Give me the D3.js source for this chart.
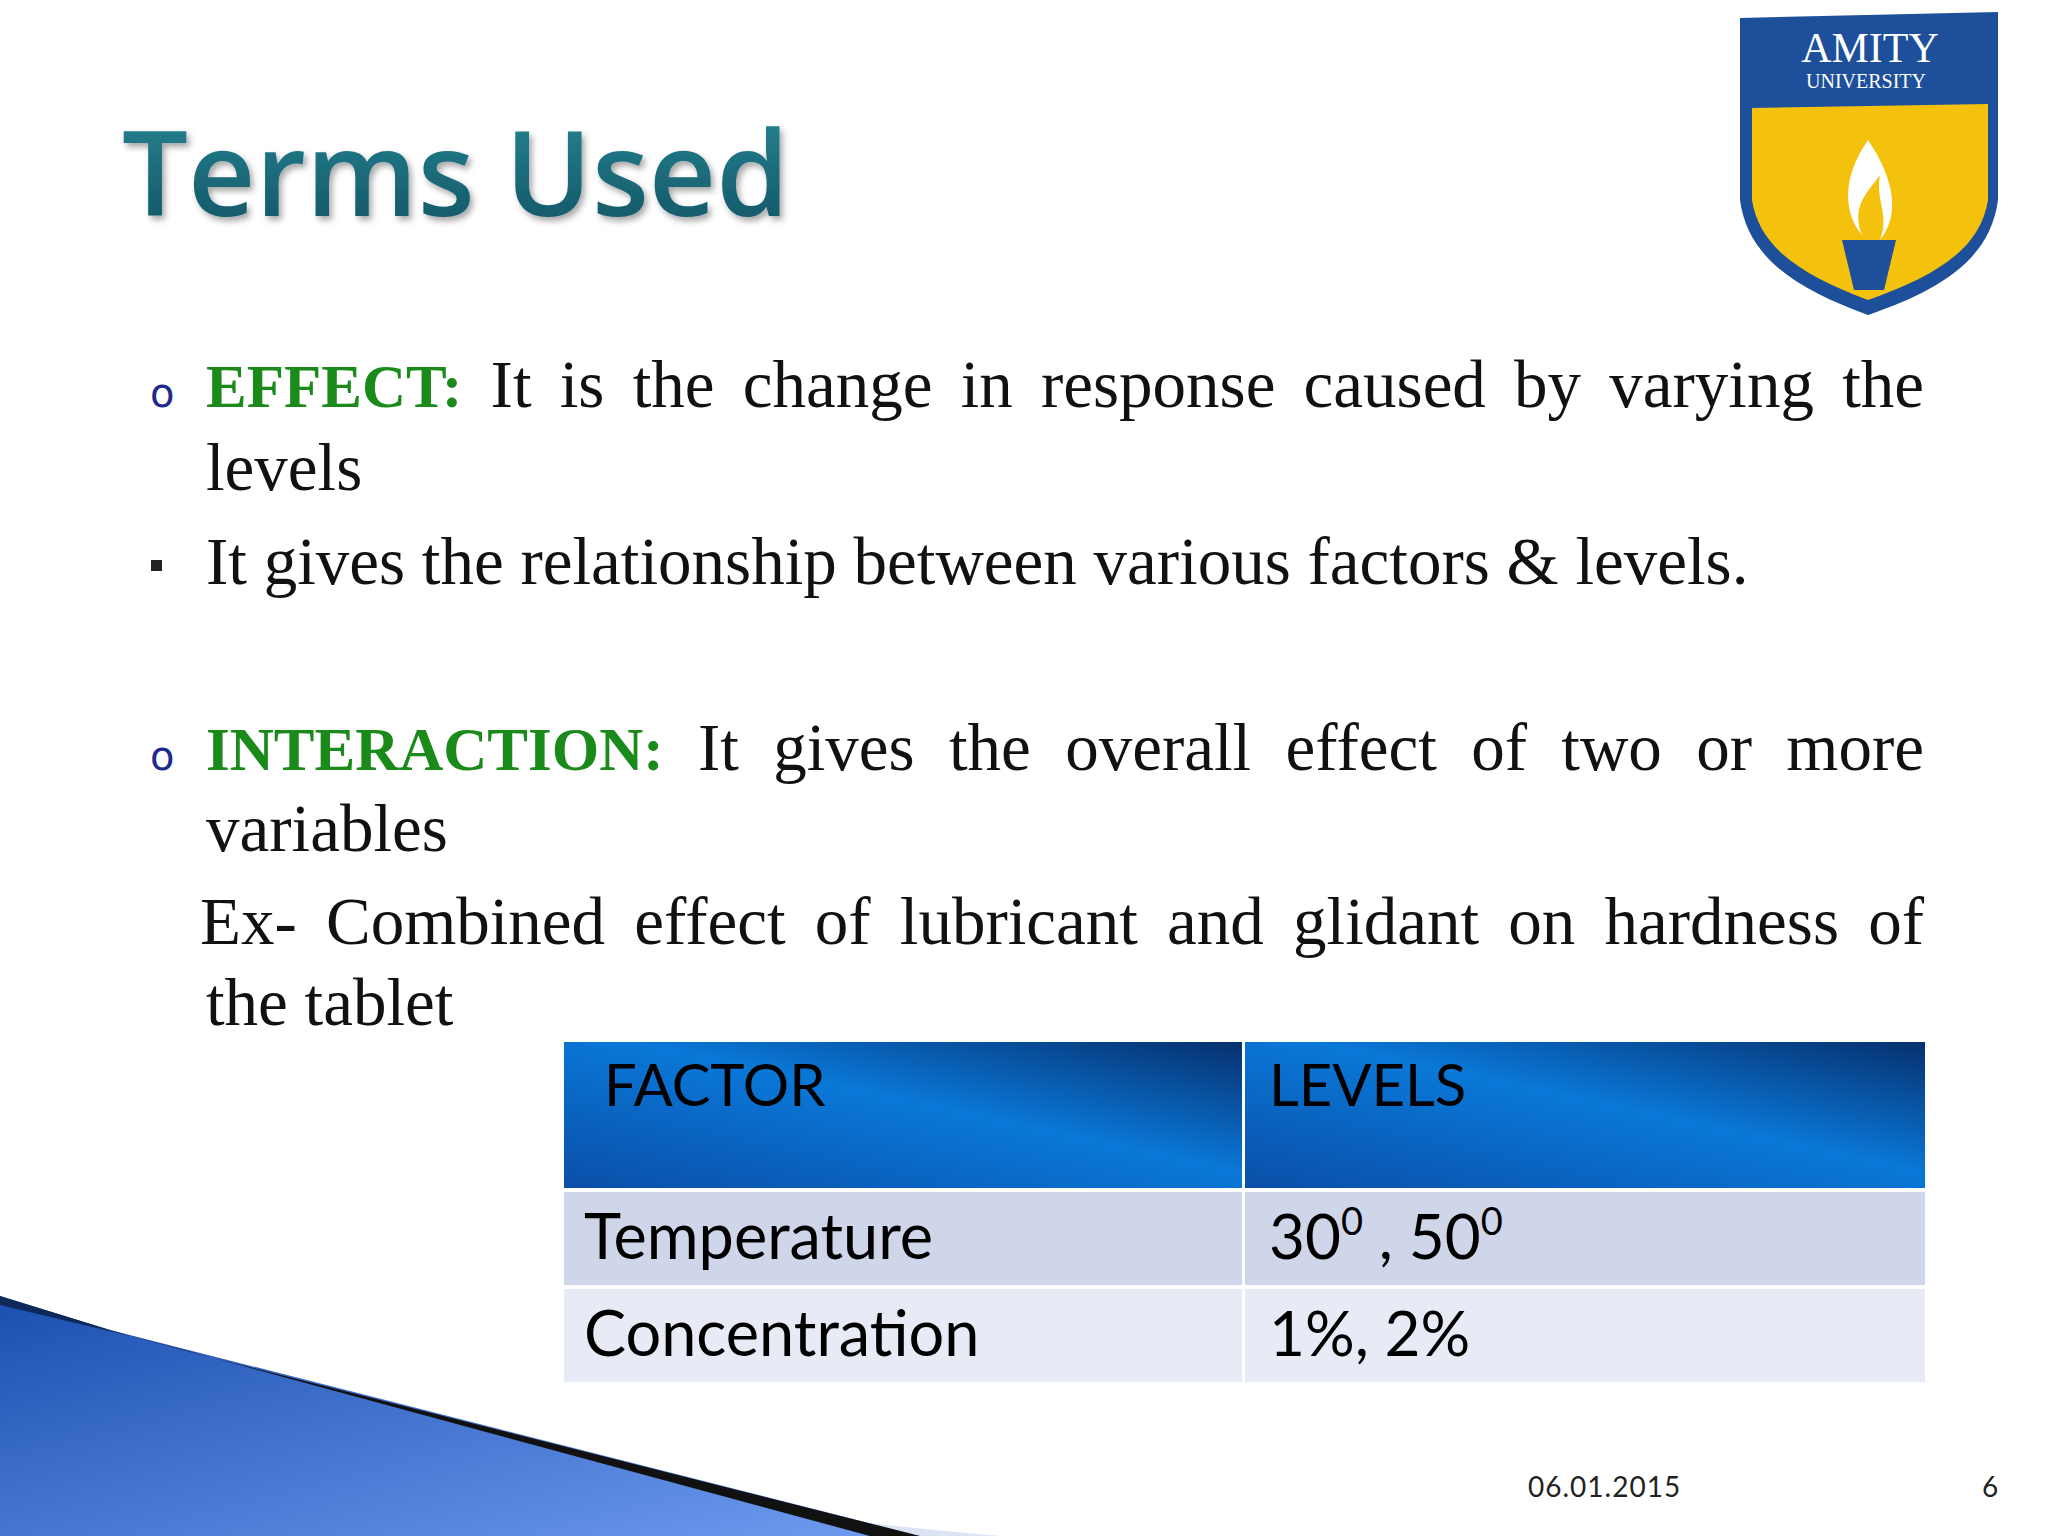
<!DOCTYPE html>
<html lang="en">
<head>
<meta charset="UTF-8">
<title>Terms Used</title>
<style>body{margin:0;background:#fff}</style>
</head>
<body>
<svg id="slide"></svg>
<script src="https://d3js.org/d3.v7.min.js"></script>
<script>
// table content
var headers = ['FACTOR', 'LEVELS'];
var factors = ['Temperature', 'Concentration'];
var levels = [['30', '0', ' , 50', '0'], ['1%, 2%']];
var dateLabel = '06.01.2015', pageNo = '6';

var W = 2048, H = 1536;
var svg = d3.select('#slide').attr('width', W).attr('height', H);
var defs = svg.append('defs');

var g1 = defs.append('linearGradient').attr('id', 'hdr').attr('x1', 0).attr('x2', 1).attr('y1', 1).attr('y2', 0);
g1.append('stop').attr('offset', 0).attr('stop-color', '#0a4fa8');
g1.append('stop').attr('offset', 0.55).attr('stop-color', '#0a78d8');
g1.append('stop').attr('offset', 1).attr('stop-color', '#06306e');
var g2 = defs.append('linearGradient').attr('id', 'swoosh').attr('x1', 0).attr('x2', 1).attr('y1', 0).attr('y2', 1);
g2.append('stop').attr('offset', 0).attr('stop-color', '#1b4fb0');
g2.append('stop').attr('offset', 1).attr('stop-color', '#6f9cf0');
var g3 = defs.append('linearGradient').attr('id', 'ttl').attr('x1', 0).attr('x2', 0).attr('y1', 0).attr('y2', 1);
g3.append('stop').attr('offset', 0).attr('stop-color', '#2a8a98');
g3.append('stop').attr('offset', 1).attr('stop-color', '#0f4f60');
var sh = defs.append('filter').attr('id', 'sh');
sh.append('feDropShadow').attr('dx', 3).attr('dy', 4).attr('stdDeviation', 3).attr('flood-color', '#000').attr('flood-opacity', 0.35);

// bottom-left swoosh
svg.append('path').attr('d', 'M0,1536 L0,1390 C300,1450 700,1510 1000,1536 Z').attr('fill', '#dce4f4');
svg.append('path').attr('d', 'M0,1536 L0,1296 L110,1330 L920,1536 Z').attr('fill', 'url(#swoosh)');
svg.append('path').attr('d', 'M110,1330 L190,1352 L920,1536 L870,1536 Z').attr('fill', '#111');
svg.append('path').attr('d', 'M0,1296 L110,1330 L130,1336 L0,1305 Z').attr('fill', '#0f2a5a');

// title
svg.append('text').attr('x', 122).attr('y', 216).attr('font-family', 'Open Sans, sans-serif')
  .attr('font-weight', 600).attr('font-size', 117).attr('fill', 'url(#ttl)').attr('filter', 'url(#sh)').text('Terms Used');

// logo
var logo = svg.append('g');
logo.append('path').attr('d', 'M1740,18 L1998,12 L1998,200 C1990,260 1940,290 1868,315 C1800,290 1748,260 1740,200 Z').attr('fill', '#1d4f9a');
logo.append('path').attr('d', 'M1752,108 L1988,104 L1988,200 C1980,250 1935,276 1868,300 C1805,276 1760,250 1752,200 Z').attr('fill', '#f4c20d');
logo.append('text').attr('x', 1870).attr('y', 62).attr('text-anchor', 'middle').attr('font-family', 'Liberation Serif, serif').attr('font-size', 42).attr('fill', '#fff').text('AMITY');
logo.append('text').attr('x', 1866).attr('y', 88).attr('text-anchor', 'middle').attr('font-family', 'Liberation Serif, serif').attr('font-size', 20).attr('fill', '#fff').text('UNIVERSITY');
logo.append('path').attr('d', 'M1868,140 C1840,180 1845,215 1862,235 C1850,205 1870,190 1880,175 C1875,200 1890,215 1880,240 C1900,215 1895,180 1868,140 Z').attr('fill', '#fff');
logo.append('path').attr('d', 'M1842,240 L1896,240 L1884,290 L1854,290 Z').attr('fill', '#1d4f9a');

// body text
var serif = 'Liberation Serif, Times New Roman, serif';
var L = 206, R = 1924, fs = 67;
function justified(y, parts) {
  var words = [];
  parts.forEach(function (p) { p[0].split(' ').forEach(function (w) { if (w) words.push([w, p[1], p[2]]); }); });
  var nodes = words.map(function (w) {
    return svg.append('text').attr('y', y).attr('font-family', serif).attr('font-size', w[2] ? fs - 6 : fs)
      .attr('font-weight', w[2] ? 'bold' : 'normal').attr('fill', w[1]).text(w[0]);
  });
  var widths = nodes.map(function (n) { return n.node().getComputedTextLength(); });
  var gap = (R - L - d3.sum(widths)) / (words.length - 1);
  var x = L;
  nodes.forEach(function (n, i) { n.attr('x', x); x += widths[i] + gap; });
}
function plain(x, y, t) {
  svg.append('text').attr('x', x).attr('y', y).attr('font-family', serif).attr('font-size', fs).attr('fill', '#111').text(t);
}
function circ(y) {
  svg.append('text').attr('x', 150).attr('y', y).attr('font-family', 'DejaVu Sans, sans-serif').attr('font-size', 40).attr('fill', '#1e2a8a').text('o');
}
var green = '#1a8a1a';
circ(407);
justified(407, [['EFFECT:', green, true], ['It is the change in response caused by varying the', '#111', false]]);
plain(206, 490, 'levels');
svg.append('rect').attr('x', 151).attr('y', 560).attr('width', 11).attr('height', 11).attr('fill', '#222');
plain(206, 584, 'It gives the relationship between various factors & levels.');
circ(770);
justified(770, [['INTERACTION:', green, true], ['It gives the overall effect of two or more', '#111', false]]);
plain(206, 851, 'variables');
var Ls = L; L = 200;
justified(944, [['Ex- Combined effect of lubricant and glidant on hardness of', '#111', false]]);
L = Ls;
plain(206, 1025, 'the tablet');

// table
var x = d3.scaleLinear().domain([0, 1, 2]).range([564, 1245, 1928]);
var sans = 'Lato, Open Sans, sans-serif';
[0, 1].forEach(function (c) {
  svg.append('rect').attr('x', x(c)).attr('y', 1042).attr('width', x(c + 1) - x(c) - 3).attr('height', 146).attr('fill', 'url(#hdr)');
  svg.append('text').attr('x', x(c) + (c ? 24 : 40)).attr('y', 1106).attr('font-family', sans).attr('font-size', 58).attr('fill', '#000').text(headers[c]);
});
var rowY = d3.scaleBand().domain(d3.range(factors.length)).range([1192, 1382]).paddingInner(0.04);
var rowFill = ['#cfd6ea', '#e8ebf5'];
factors.forEach(function (f, i) {
  [0, 1].forEach(function (c) {
    svg.append('rect').attr('x', x(c)).attr('y', rowY(i)).attr('width', x(c + 1) - x(c) - 3).attr('height', rowY.bandwidth()).attr('fill', rowFill[i]);
  });
  var ty = rowY(i) + rowY.bandwidth() * 0.72;
  svg.append('text').attr('x', x(0) + 20).attr('y', ty).attr('font-family', sans).attr('font-size', 63).attr('fill', '#000').text(f);
  var t = svg.append('text').attr('x', x(1) + 24).attr('y', ty).attr('font-family', sans).attr('font-size', 62).attr('fill', '#000');
  if (levels[i].length > 1) {
    levels[i].forEach(function (p, k) {
      t.append('tspan').attr('font-size', k % 2 ? 38 : 62).attr('dy', k % 2 ? -24 : (k ? 24 : 0)).attr('xml:space', 'preserve').text(p);
    });
  } else t.text(levels[i][0]);
});

// footer
svg.append('text').attr('x', 1528).attr('y', 1497).attr('font-family', sans).attr('font-size', 28).attr('letter-spacing', 1).attr('fill', '#222').text(dateLabel);
svg.append('text').attr('x', 1982).attr('y', 1497).attr('font-family', sans).attr('font-size', 28).attr('fill', '#222').text(pageNo);
</script>
</body>
</html>
